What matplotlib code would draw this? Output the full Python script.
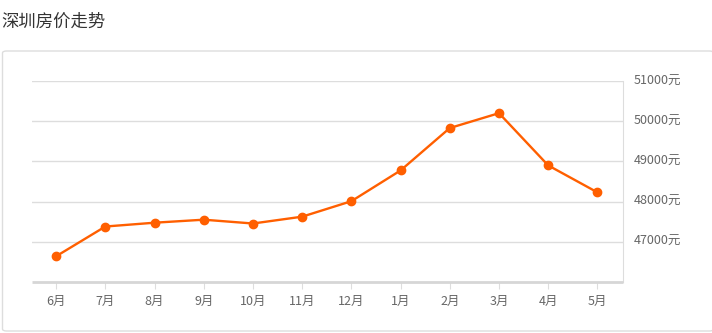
#!/usr/bin/env python3
# coding=utf-8
import matplotlib
matplotlib.use('Agg')
from matplotlib import pyplot as plt
from matplotlib.patches import FancyBboxPatch

plt.rcParams['font.family'] = ['Noto Sans CJK SC', 'DejaVu Sans']

# monthly average price, Shenzhen
months = ['6月', '7月', '8月', '9月', '10月', '11月', '12月', '1月', '2月', '3月', '4月', '5月']
prices = [46640, 47380, 47475, 47550, 47455, 47625, 48010, 48775, 49830, 50200, 48900, 48230]
yticks = [47000, 48000, 49000, 50000, 51000]

W, H = 712, 333
fig = plt.figure(figsize=(W / 100, H / 100), dpi=100)

# title and panel frame
fig.text(1 / W, 1 - 22 / H, '深圳房价走势', fontsize=12.5, color='#333333', va='center', ha='left')
box = FancyBboxPatch((2.5 / W, 2 / H), (W - 1) / W, (331 - 51) / H,
                     boxstyle='round,pad=0,rounding_size=0.006',
                     transform=fig.transFigure, fc='white', ec='#dddddd', lw=1, zorder=-5)
fig.patches.append(box)

ax = fig.add_axes([32 / W, 1 - 282 / H, (623 - 32) / W, (282 - 81) / H])
ax.patch.set_visible(False)
x = list(range(len(months)))
ax.plot(x, prices, color='#ff5f00', lw=1.7, marker='o', ms=6, zorder=3)

ax.set_xlim(-0.49, 11.52)
ax.set_ylim(46000, 51000)
ax.set_xticks(x)
ax.set_xticklabels(months)
ax.set_yticks(yticks)
ax.set_yticklabels([f'{v}元' for v in yticks])
ax.yaxis.tick_right()
ax.grid(axis='y', color='#dddddd', lw=1)
ax.set_axisbelow(True)

for s in ['top', 'left']:
    ax.spines[s].set_visible(False)
ax.spines['right'].set_color('#dddddd')
ax.spines['bottom'].set_color('#d6d6d6')
ax.spines['bottom'].set_linewidth(2)
ax.spines['bottom'].set_capstyle('butt')

ax.tick_params(axis='x', length=5, color='#dddddd', labelsize=9, labelcolor='#666666', pad=4)
ax.tick_params(axis='y', length=0, labelsize=9, labelcolor='#666666', pad=8)
for lbl in ax.get_yticklabels():
    lbl.set_va('center')

fig.savefig('out.png', dpi=100)
